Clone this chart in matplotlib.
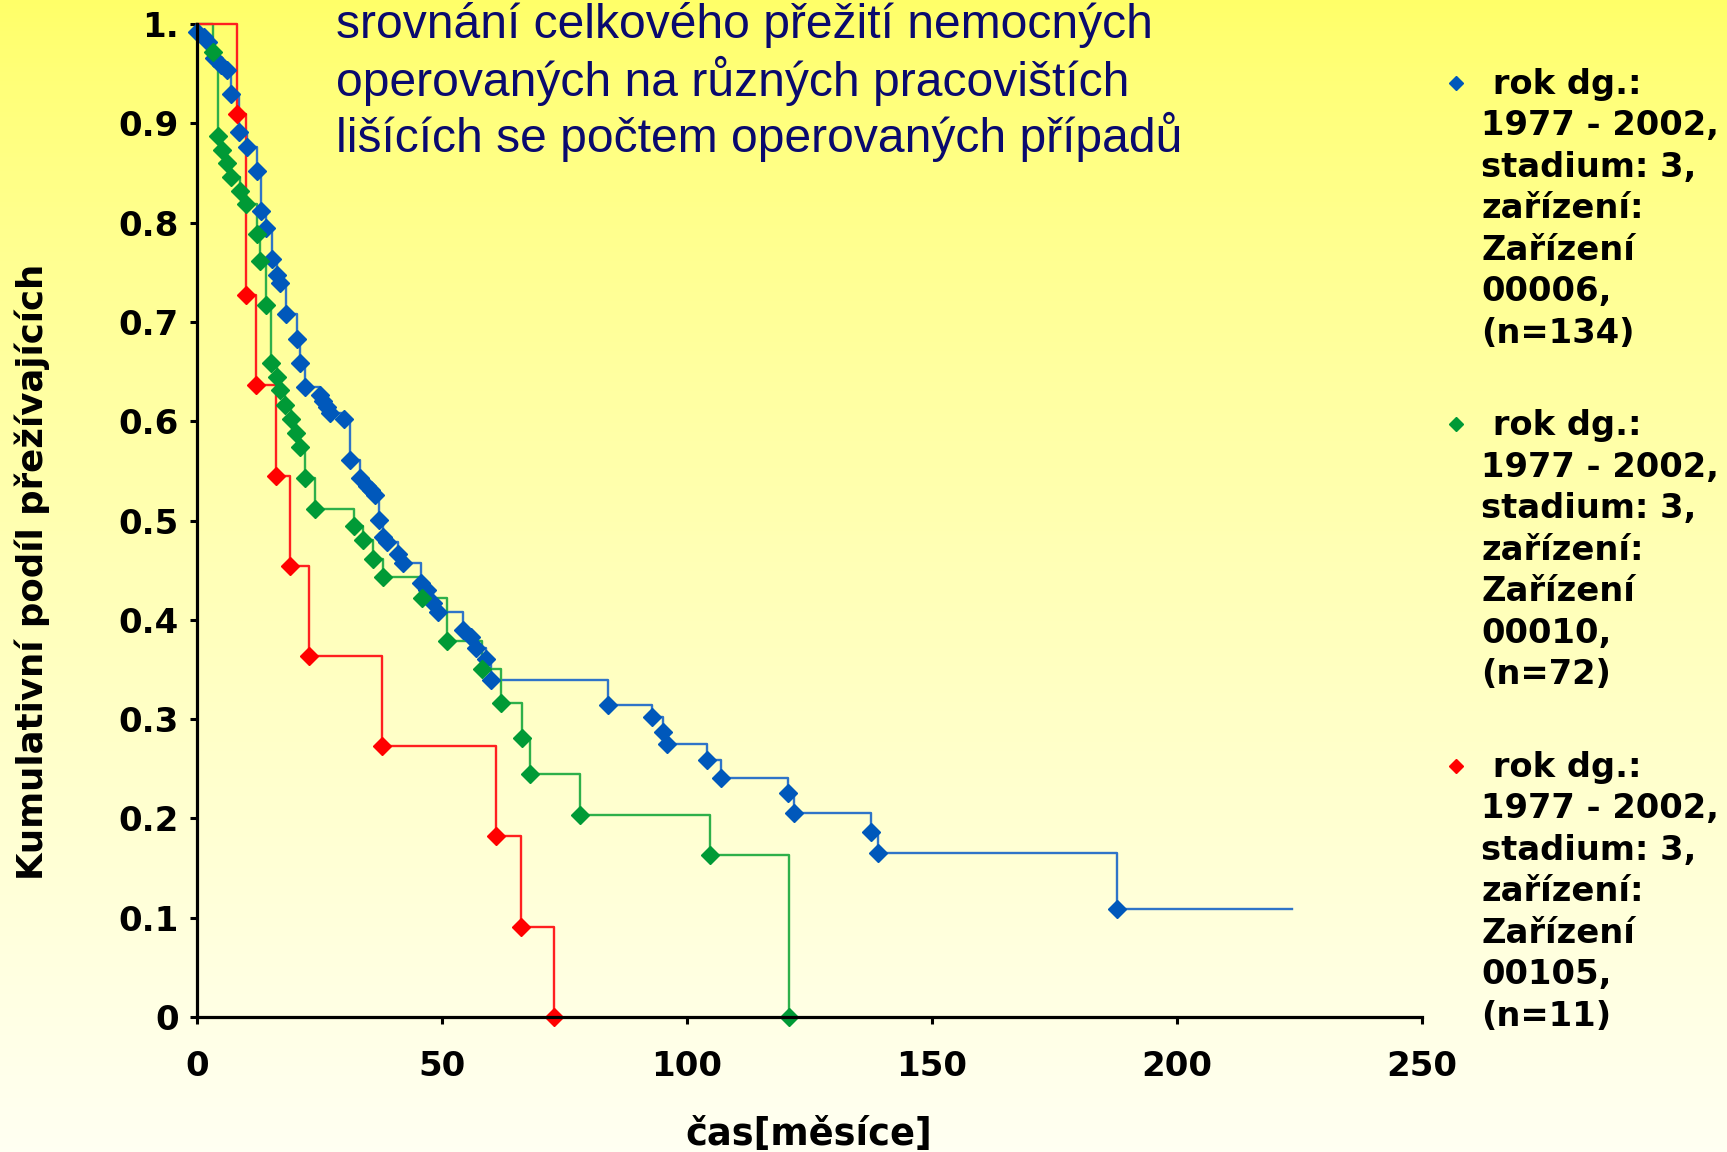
import numpy as np
import matplotlib
matplotlib.use("Agg")
import matplotlib.pyplot as plt
from matplotlib.lines import Line2D

# ---------------- data ----------------
blue_t = [0, 1.4, 2.4, 3.5, 5.0, 6.2, 7.0, 8.7, 10.2, 12.4, 13.1, 14.1, 15.3, 16.3, 17.0,
          18.2, 20.4, 21.1, 22.1, 25.2, 25.8, 26.5, 27.2, 30.1, 31.2, 33.3, 34.7, 35.5, 36.4,
          37.3, 38.0, 38.8, 41.1, 42.1, 45.7, 47.0, 48.2, 49.2, 54.3, 56.0, 57.0, 59.0, 60.0,
          83.9, 93.0, 95.2, 95.9, 104.2, 107.0, 120.7, 121.9, 137.6, 139.0, 187.8]
blue_s = [0.992, 0.987, 0.982, 0.966, 0.959, 0.954, 0.930, 0.891, 0.876, 0.852, 0.812, 0.795,
          0.763, 0.747, 0.739, 0.708, 0.6825, 0.659, 0.634, 0.626, 0.620, 0.614, 0.608, 0.602,
          0.561, 0.5425, 0.535, 0.531, 0.526, 0.5005, 0.483, 0.478, 0.466, 0.457, 0.4375, 0.430,
          0.4165, 0.408, 0.390, 0.383, 0.372, 0.361, 0.339, 0.314, 0.302, 0.287, 0.275, 0.259,
          0.2405, 0.2255, 0.205, 0.186, 0.165, 0.109]
blue_end = 223.5

green_t = [3.3, 4.4, 5.1, 6.1, 7.1, 8.8, 10.1, 12.3, 12.9, 14.1, 15.2, 16.3, 17.1, 18.0, 19.2,
           20.2, 21.0, 22.0, 24.1, 32.1, 33.9, 36.0, 38.1, 45.9, 51.0, 58.2, 62.2, 66.3, 68.0,
           78.2, 104.8, 120.8]
green_s = [0.972, 0.8875, 0.873, 0.860, 0.846, 0.832, 0.819, 0.789, 0.761, 0.717, 0.659, 0.645,
           0.631, 0.616, 0.602, 0.588, 0.574, 0.5425, 0.512, 0.4945, 0.480, 0.461, 0.443, 0.4215,
           0.379, 0.3505, 0.316, 0.281, 0.245, 0.2035, 0.1636, 0.0]

red_t = [8.3, 10.1, 12.2, 16.2, 19.1, 23.0, 37.9, 61.0, 66.2, 73.0]
red_s = [0.909, 0.727, 0.636, 0.545, 0.4545, 0.3636, 0.2727, 0.1818, 0.0909, 0.0]

x_ticks = [0, 50, 100, 150, 200, 250]
y_ticks = [0, 0.1, 0.2, 0.3, 0.4, 0.5, 0.6, 0.7, 0.8, 0.9, 1.0]
y_ticklabels = ["0", "0.1", "0.2", "0.3", "0.4", "0.5", "0.6", "0.7", "0.8", "0.9", "1."]

title_lines = ["srovnání celkového přežití nemocných",
               "operovaných na různých pracovištích",
               "lišících se počtem operovaných případů"]
legend_labels = [
    " rok dg.:\n1977 - 2002,\nstadium: 3,\nzařízení:\nZařízení\n00006,\n(n=134)",
    " rok dg.:\n1977 - 2002,\nstadium: 3,\nzařízení:\nZařízení\n00010,\n(n=72)",
    " rok dg.:\n1977 - 2002,\nstadium: 3,\nzařízení:\nZařízení\n00105,\n(n=11)",
]
xlabel = "čas[měsíce]"
ylabel = "Kumulativní podíl přežívajících"

# ---------------- style ----------------
blue_line, blue_mk = "#2f74c8", "#0058bb"
green_line, green_mk = "#2eb04a", "#009a36"
red_line, red_mk = "#ff2020", "#ff0000"

W, H = 1727, 1152
fig = plt.figure(figsize=(W / 100, H / 100), dpi=100)

# background gradient
bg = fig.add_axes([0, 0, 1, 1], zorder=0)
g = np.linspace(0, 1, 256)[:, None]
top = np.array([255, 255, 104]) / 255
bot = np.array([255, 255, 242]) / 255
grad = top[None, None, :] * (1 - g[..., None] ** 0.8) + bot[None, None, :] * (g[..., None] ** 0.8)
grad = np.repeat(grad, 2, axis=1)
bg.imshow(grad, aspect="auto", extent=[0, 1, 0, 1])
bg.set_axis_off()

ax_left = 196.7 / W
ax_w = (1421.7 - 196.7) / W
ax_bottom = (H - 1017) / H
ax_h = (1017 - 24) / H
ax = fig.add_axes([ax_left, ax_bottom, ax_w, ax_h], zorder=1)
ax.patch.set_alpha(0)

def km(ax, t, s, lc, mc, end=None):
    xs = [0] + list(t)
    ys = [1.0] + list(s)
    if end is not None:
        xs.append(end)
        ys.append(s[-1])
    ax.step(xs, ys, where="post", color=lc, lw=1.7, zorder=2, clip_on=False)
    ax.plot(t, s, linestyle="none", marker="D", ms=9, color=mc, mec=mc, zorder=3, clip_on=False)

km(ax, blue_t, blue_s, blue_line, blue_mk, end=blue_end)
km(ax, green_t, green_s, green_line, green_mk)
km(ax, red_t, red_s, red_line, red_mk)

ax.set_xlim(0, 250)
ax.set_ylim(0, 1.0)
for sp in ["top", "right"]:
    ax.spines[sp].set_visible(False)
for sp in ["left", "bottom"]:
    ax.spines[sp].set_linewidth(2.3)
    ax.spines[sp].set_color("black")
    ax.spines[sp].set_zorder(4)

ax.set_xticks(x_ticks)
ax.set_xticklabels([str(v) for v in x_ticks])
ax.set_yticks(y_ticks)
ax.set_yticklabels(y_ticklabels)
ax.tick_params(axis="both", direction="out", length=5, width=2.2, color="black")
ax.tick_params(axis="x", pad=19)
ax.tick_params(axis="y", pad=8)
for lab in ax.get_xticklabels() + ax.get_yticklabels():
    lab.set_fontfamily("DejaVu Sans")
    lab.set_fontweight("bold")
    lab.set_fontsize(24.5)

ax.set_xlabel(xlabel, fontsize=26.5, fontweight="bold", family="DejaVu Sans", va="center")
ax.xaxis.set_label_coords(0.5, (1017 - 1134) / 993)
ax.set_ylabel(ylabel, fontsize=25.6, fontweight="bold", family="DejaVu Sans", va="center")
ax.yaxis.set_label_coords((32 - 196.7) / 1225, (1017 - 571.6) / 993)

# title
for i, line in enumerate(title_lines):
    fig.text(336 / W, 1 - (38.5 + 57 * i) / H, line, fontsize=34.6, family="Liberation Sans",
             color="#0a0a6e", ha="left", va="baseline")

# legend (manual)
leg_y = [82.6, 424.0, 765.5]
leg_cols = [blue_mk, green_mk, red_mk]
for lab, yc, c in zip(legend_labels, leg_y, leg_cols):
    fig.add_artist(Line2D([1456 / W], [1 - yc / H], marker="D", ms=7, color=c,
                          linestyle="none", transform=fig.transFigure))
    fig.text(1481.4 / W, 1 - (yc - 15) / H, lab, fontsize=24.3, fontweight="bold",
             family="DejaVu Sans", ha="left", va="top", linespacing=1.33, color="black")

fig.savefig("out.png", dpi=100)
